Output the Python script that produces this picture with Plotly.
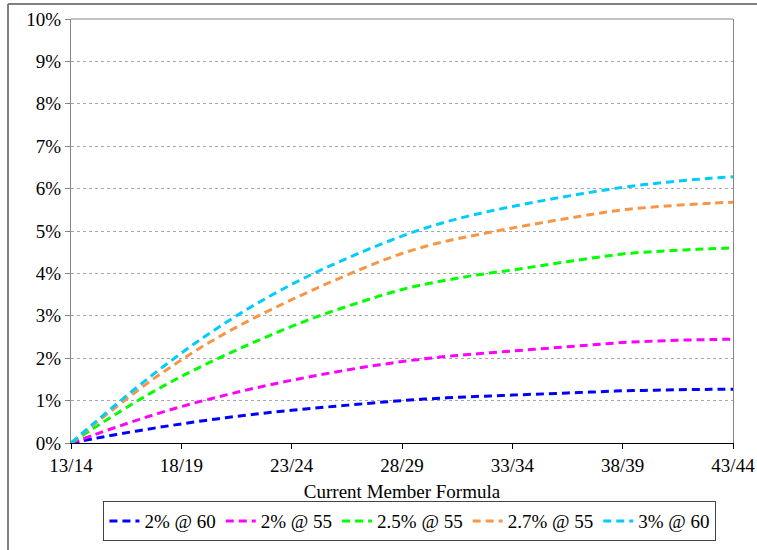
import plotly.graph_objects as go

categories = [f"{y}/{y+1}" for y in range(13, 44)]

s_2_60 = [0, 0.10, 0.195, 0.285, 0.37, 0.45, 0.525, 0.595, 0.66, 0.718, 0.77, 0.82, 0.868, 0.914, 0.958, 1.00,
          1.035, 1.065, 1.09, 1.11, 1.13, 1.15, 1.17, 1.19, 1.21, 1.23, 1.24, 1.25, 1.26, 1.265, 1.27]
s_2_55 = [0, 0.185, 0.365, 0.54, 0.705, 0.86, 1.00, 1.13, 1.255, 1.37, 1.48, 1.58, 1.675, 1.765, 1.845, 1.92,
          1.985, 2.04, 2.085, 2.13, 2.17, 2.21, 2.25, 2.29, 2.33, 2.37, 2.395, 2.415, 2.43, 2.44, 2.45]
s_25_55 = [0, 0.34, 0.67, 0.99, 1.29, 1.57, 1.83, 2.075, 2.31, 2.535, 2.75, 2.95, 3.135, 3.305, 3.47, 3.62,
           3.74, 3.84, 3.93, 4.01, 4.08, 4.16, 4.24, 4.315, 4.39, 4.46, 4.50, 4.53, 4.56, 4.58, 4.60]
s_27_55 = [0, 0.42, 0.83, 1.23, 1.61, 1.96, 2.29, 2.59, 2.87, 3.13, 3.38, 3.62, 3.85, 4.07, 4.28, 4.47,
           4.63, 4.76, 4.87, 4.97, 5.07, 5.165, 5.255, 5.34, 5.425, 5.50, 5.55, 5.59, 5.625, 5.655, 5.68]
s_3_60 = [0, 0.45, 0.89, 1.32, 1.73, 2.12, 2.49, 2.835, 3.16, 3.46, 3.74, 4.00, 4.24, 4.465, 4.68, 4.88,
          5.06, 5.215, 5.35, 5.47, 5.58, 5.68, 5.775, 5.865, 5.95, 6.03, 6.095, 6.15, 6.20, 6.245, 6.28]

series_names = ["2% @ 60", "2% @ 55", "2.5% @ 55", "2.7% @ 55", "3% @ 60"]
series_values = [s_2_60, s_2_55, s_25_55, s_27_55, s_3_60]
series_colors = ["#0000FF", "#FF00FF", "#00FF00", "#F79646", "#00CCFF"]

y_ticks = [i / 100 for i in range(0, 11)]
x_ticks = categories[::5]

fig = go.Figure()
for name, vals, col in zip(series_names, series_values, series_colors):
    fig.add_trace(go.Scatter(
        x=categories, y=[v / 100 for v in vals], name=name, mode="lines",
        line=dict(color=col, width=3, dash="8px,5px", shape="spline", smoothing=1),
    ))

font = "Liberation Serif"
fs = 19
fig.update_layout(
    width=757, height=550,
    margin=dict(l=71, r=24, t=19, b=107, autoexpand=False),
    paper_bgcolor="white", plot_bgcolor="white",
    font=dict(family=font, size=fs, color="black"),
    showlegend=True,
    legend=dict(orientation="h", x=0.512, xanchor="center", y=-0.137, yanchor="top",
                bordercolor="#444", borderwidth=1, font=dict(family=font, size=fs),
                itemwidth=30, tracegroupgap=0),
    xaxis=dict(type="category", range=[0, 30], tickvals=x_ticks, ticktext=x_ticks,
               showline=True, linecolor="black", linewidth=1,
               ticks="outside", ticklen=5, tickcolor="black", showgrid=False,
               title=dict(text="Current Member Formula", font=dict(family=font, size=fs), standoff=9),
               tickfont=dict(family=font, size=fs)),
    yaxis=dict(range=[0, 0.1], tickvals=y_ticks, tickformat=".0%",
               showline=True, linecolor="#868686", linewidth=1, mirror=True,
               ticks="outside", ticklen=5, tickcolor="#868686",
               showgrid=True, gridcolor="#A8A8A8", griddash="dot", gridwidth=1,
               zeroline=False, tickfont=dict(family=font, size=fs)),
    shapes=[
        dict(type="line", xref="paper", yref="paper", x0=0, x1=1, y0=1, y1=1,
             line=dict(color="#868686", width=1)),
        dict(type="line", xref="paper", yref="paper",
             x0=(8 - 71) / 662, x1=(8 - 71) / 662, y0=(443 - 4) / 424, y1=(443 - 560) / 424,
             line=dict(color="#808080", width=2)),
        dict(type="line", xref="paper", yref="paper",
             x0=(8 - 71) / 662, x1=(770 - 71) / 662, y0=(443 - 4) / 424, y1=(443 - 4) / 424,
             line=dict(color="#808080", width=2)),
    ],
)

fig.write_html("out.html", config={"displayModeBar": False},
               post_script="document.body.style.margin='0px';document.body.style.overflow='hidden';")
